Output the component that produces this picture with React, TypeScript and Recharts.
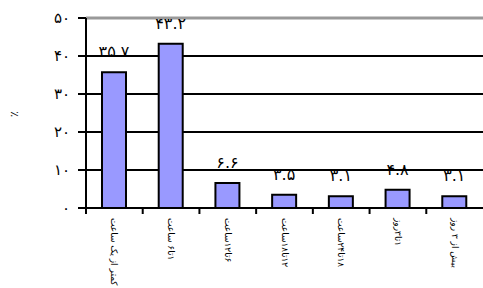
import { Bar, BarChart, CartesianGrid, LabelList, ReferenceLine, XAxis, YAxis } from "recharts"

// مدت زمان - درصد
const categories = [
  "کمتر از یک ساعت",
  "۱تا۶ ساعت",
  "۶تا۱۲ساعت",
  "۱۲تا۱۸ساعت",
  "۱۸تا۲۴ساعت",
  "۱تا۳روز",
  "بیش از ۳ روز",
]
const percents = [35.7, 43.2, 6.6, 3.5, 3.1, 4.8, 3.1]
const yTicks = [0, 10, 20, 30, 40, 50]

const W = 483
const H = 288
const LEFT = 86
const FONT = "'DejaVu Sans', Tahoma, sans-serif"

const faDigits = (s: string) => s.replace(/[0-9]/g, (d) => "۰۱۲۳۴۵۶۷۸۹"[Number(d)])

const data = categories.map((name, i) => ({ name, value: percents[i] }))

const halfBand = (W - LEFT) / categories.length / 2

function XTick(props: any) {
  const { x, y, payload } = props
  return (
    <g>
      <line x1={x - halfBand} y1={y - 8} x2={x - halfBand} y2={y - 2} stroke="#000" strokeWidth={2} />
      <text
        x={0}
        y={0}
        transform={`translate(${x},${y + 2}) rotate(90)`}
        direction="rtl"
        textAnchor="end"
        dominantBaseline="central"
        fontSize={9}
        fontFamily={FONT}
        fill="#000"
      >
        {payload.value}
      </text>
    </g>
  )
}

export default function App() {
  return (
    <div style={{ position: "absolute", left: 0, top: 0, background: "#fff" }}>
      <BarChart width={W} height={H} data={data} margin={{ top: 18, right: 0, left: 26, bottom: 10 }}>
        <CartesianGrid vertical={false} stroke="#000" strokeWidth={2} />
        <ReferenceLine y={50} stroke="#999" strokeWidth={3} />
        <XAxis
          dataKey="name"
          interval={0}
          height={70}
          tickLine={false}
          axisLine={{ stroke: "#000", strokeWidth: 2 }}
          tick={<XTick />}
        />
        <YAxis
          domain={[0, 50]}
          ticks={yTicks}
          width={60}
          tickSize={8}
          tickMargin={8}
          tickLine={{ stroke: "#000", strokeWidth: 2 }}
          axisLine={{ stroke: "#000", strokeWidth: 2 }}
          tickFormatter={(v: number) => faDigits(String(v))}
          tick={{ fill: "#000", fontSize: 15, fontFamily: FONT }}
          label={{
            value: "٪",
            angle: -90,
            position: "insideLeft",
            offset: -12,
            dy: 4,
            style: { fill: "#000", fontSize: 11, fontFamily: FONT },
          }}
        />
        <Bar dataKey="value" fill="#9999ff" stroke="#000" strokeWidth={2} barSize={24} isAnimationActive={false}>
          <LabelList
            dataKey="value"
            position="top"
            offset={15}
            formatter={(v: any) => faDigits(String(v))}
            style={{ fill: "#000", fontSize: 16, fontFamily: FONT }}
          />
        </Bar>
      </BarChart>
    </div>
  )
}
